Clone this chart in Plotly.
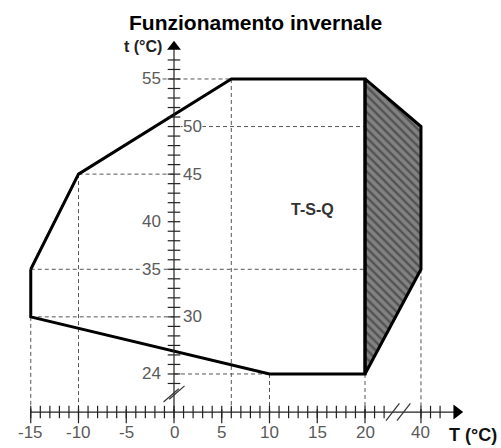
import plotly.graph_objects as go

# ---------------- data ----------------
TITLE = "Funzionamento invernale"
X_LABEL = "T (°C)"
Y_LABEL = "t (°C)"
REGION_LABEL = "T-S-Q"

# main operating envelope (T outdoor, t water)
env_T = [-15, -10, 6, 20, 20, 10, -15, -15]
env_t = [35, 45, 55, 55, 24, 24, 30, 35]

# hatched zone
hatch_T = [20, 40, 40, 20, 20]
hatch_t = [55, 50, 35, 24, 55]

# dashed guide lines: (T1, t1, T2, t2)
guides = [
    (-1.2, 55, 6, 55),
    (0, 50, 40, 50),
    (-10, 45, 0, 45),
    (-15, 35, 40, 35),
    (-15, 30, 0, 30),
    (0, 24, 20, 24),
    (-15, 30, -15, 20),
    (-10, 45, -10, 20),
    (6, 55, 6, 20),
    (10, 24, 10, 20),
    (20, 24, 20, 20),
    (40, 35, 40, 20),
]

x_tick_vals = [-15, -10, -5, 0, 5, 10, 15, 20, 40]
x_tick_text = ["-15", "-10", "-5", "0", "5", "10", "15", "20", "40"]
x_minor = list(range(-15, 23)) + [40, 41, 42]

y_left_vals = [55, 40, 35, 24]
y_right_vals = [50, 45, 30]
y_minor = list(range(23, 58))

# ---------------- axis geometry ----------------
X_AXIS_T = 20          # level where the horizontal axis is drawn
BREAK_AT = 30          # values beyond this are shifted (axis break)
BREAK_SHIFT = 40 - 25.86
X_RANGE = [-18.22, 34.24]
Y_RANGE = [16.22, 63.30]


def px(T):
    return T - BREAK_SHIFT if T > BREAK_AT else T


def pxs(vals):
    return [px(v) for v in vals]


fig = go.Figure()

# dashed guides
for (a, b, c, d) in guides:
    fig.add_trace(go.Scatter(x=[px(a), px(c)], y=[b, d], mode="lines",
                             line=dict(color="#555555", width=1, dash="4px,3px"),
                             hoverinfo="skip", showlegend=False))

# hatched zone
fig.add_trace(go.Scatter(x=pxs(hatch_T), y=hatch_t, mode="lines", fill="toself",
                         fillcolor="#808080",
                         fillpattern=dict(shape="\\", bgcolor="#828282", fgcolor="#222222",
                                          size=6, solidity=0.4),
                         line=dict(color="black", width=3),
                         hoverinfo="skip", showlegend=False))

# envelope outline
fig.add_trace(go.Scatter(x=pxs(env_T), y=env_t, mode="lines",
                         line=dict(color="black", width=3),
                         hoverinfo="skip", showlegend=False))

# x axis line + arrow
x_axis_end = 29.6
fig.add_trace(go.Scatter(x=[-15, x_axis_end], y=[X_AXIS_T, X_AXIS_T], mode="lines",
                         line=dict(color="#222222", width=1.2),
                         hoverinfo="skip", showlegend=False))
fig.add_trace(go.Scatter(x=[x_axis_end], y=[X_AXIS_T], mode="markers",
                         marker=dict(symbol="triangle-right", size=13, color="black"),
                         hoverinfo="skip", showlegend=False))
fig.add_trace(go.Scatter(x=pxs(x_minor), y=[X_AXIS_T] * len(x_minor), mode="markers",
                         marker=dict(symbol="line-ns", size=9,
                                     line=dict(color="#222222", width=1.2)),
                         hoverinfo="skip", showlegend=False))
fig.add_trace(go.Scatter(x=pxs(x_tick_vals), y=[X_AXIS_T - 0.45] * len(x_tick_vals),
                         mode="markers",
                         marker=dict(symbol="line-ns", size=10,
                                     line=dict(color="#222222", width=1.2)),
                         hoverinfo="skip", showlegend=False))

# x axis break marks
for off in (-0.9, 0.25):
    fig.add_trace(go.Scatter(x=[23.1 + off, 24.5 + off], y=[X_AXIS_T - 0.9, X_AXIS_T + 0.9],
                             mode="lines", line=dict(color="#333333", width=1.2),
                             hoverinfo="skip", showlegend=False))

# y axis line + arrow
y_axis_end = 58.4
fig.add_trace(go.Scatter(x=[0, 0], y=[X_AXIS_T, y_axis_end], mode="lines",
                         line=dict(color="#222222", width=1.2),
                         hoverinfo="skip", showlegend=False))
fig.add_trace(go.Scatter(x=[0], y=[y_axis_end], mode="markers",
                         marker=dict(symbol="triangle-up", size=12, color="black"),
                         hoverinfo="skip", showlegend=False))
fig.add_trace(go.Scatter(x=[0] * len(y_minor), y=y_minor, mode="markers",
                         marker=dict(symbol="line-ew", size=9,
                                     line=dict(color="#222222", width=1.2)),
                         hoverinfo="skip", showlegend=False))
# y axis break marks
for off in (-0.5, 0.5):
    fig.add_trace(go.Scatter(x=[-0.8 + off * 0.6, 0.8 + off * 0.6],
                             y=[21.2 + off * 0.3, 22.6 + off * 0.3],
                             mode="lines", line=dict(color="#333333", width=1.2),
                             hoverinfo="skip", showlegend=False))

label_font = dict(family="Liberation Sans, Arial", size=17, color="#5a5a5a")

# x tick labels
for v, t in zip(x_tick_vals, x_tick_text):
    fig.add_annotation(x=px(v), y=17.9, text=t, showarrow=False, font=label_font,
                       xanchor="center", yanchor="middle")

# y tick labels
for v in y_left_vals:
    fig.add_annotation(x=-1.3, y=v, text=str(v), showarrow=False, font=label_font,
                       xanchor="right", yanchor="middle", bgcolor="white", borderpad=0)
for v in y_right_vals:
    fig.add_annotation(x=0.85, y=v, text=str(v), showarrow=False, font=label_font,
                       xanchor="left", yanchor="middle", bgcolor="white", borderpad=0)

# axis titles and region label
fig.add_annotation(x=-1.1, y=58.4, text="<b>" + Y_LABEL + "</b>", showarrow=False,
                   font=dict(family="Liberation Sans, Arial", size=16, color="#222222"),
                   xanchor="right", yanchor="middle")
fig.add_annotation(x=28.6, y=17.6, text="<b>" + X_LABEL + "</b>", showarrow=False,
                   font=dict(family="Liberation Sans, Arial", size=18, color="#111111"),
                   xanchor="left", yanchor="middle")
fig.add_annotation(x=14.45, y=41.3, text="<b>" + REGION_LABEL + "</b>", showarrow=False,
                   font=dict(family="Liberation Sans, Arial", size=16, color="#333333"),
                   xanchor="center", yanchor="middle")

# title
fig.add_annotation(x=0.51, y=1 - 22 / 448, xref="paper", yref="paper", text="<b>" + TITLE + "</b>",
                   showarrow=False,
                   font=dict(family="Liberation Sans, Arial", size=21, color="black"),
                   xanchor="center", yanchor="middle")

fig.update_layout(
    width=501, height=448,
    margin=dict(l=0, r=0, t=0, b=0),
    paper_bgcolor="white", plot_bgcolor="white",
    xaxis=dict(range=X_RANGE, visible=False, fixedrange=True),
    yaxis=dict(range=Y_RANGE, visible=False, fixedrange=True),
    showlegend=False,
)

fig.write_html("out.html", config={"displayModeBar": False, "staticPlot": True},
               post_script="document.body.style.margin='0px';document.body.style.overflow='hidden';")
